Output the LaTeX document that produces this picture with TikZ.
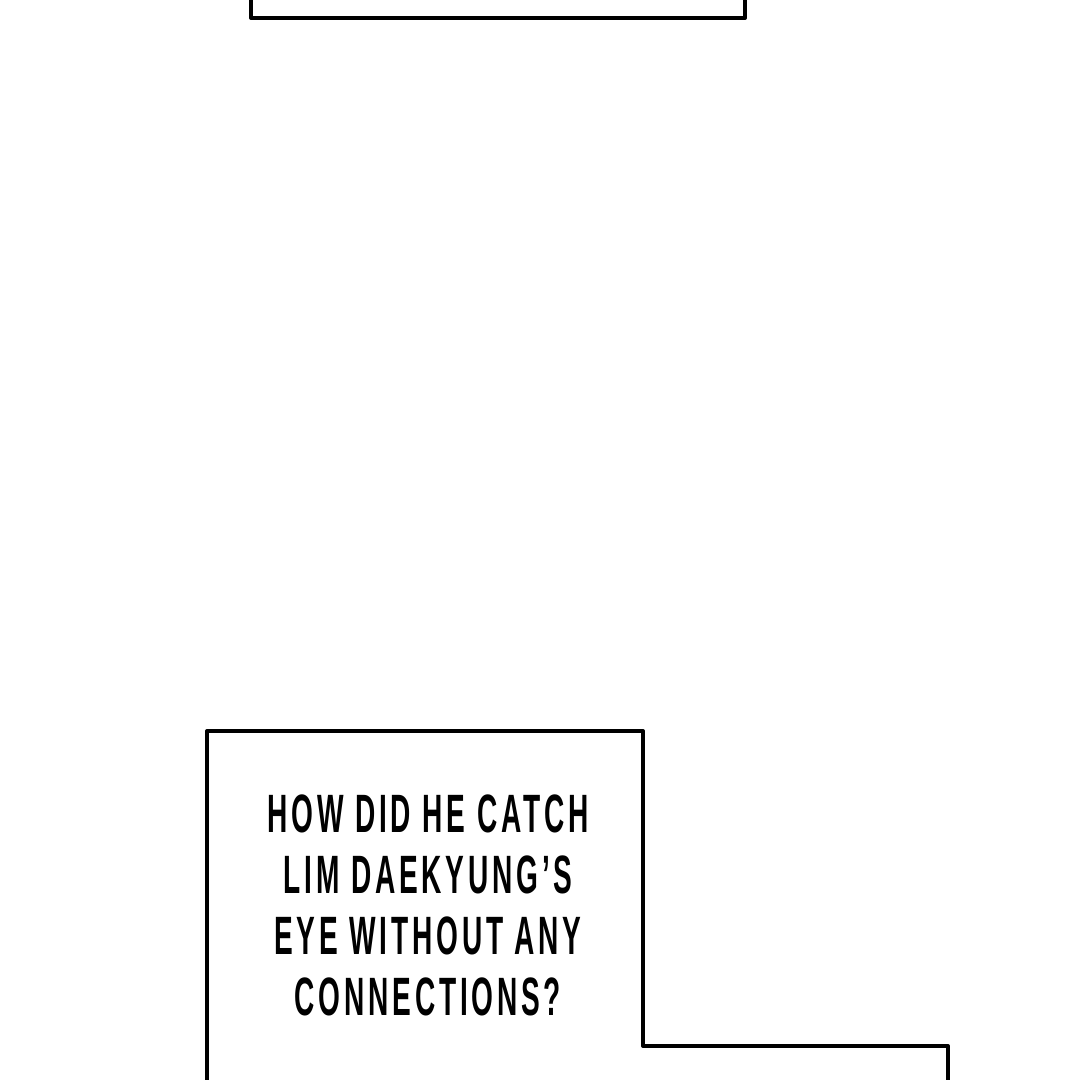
\documentclass[tikz,border=0pt]{standalone}
\usepackage{fontspec}
\usepackage{tikz}
\usetikzlibrary{positioning}
\newfontfamily\letterfont[FakeStretch=0.52, LetterSpace=7]{Liberation Sans}
\tikzstyle{panel} = [draw=black, line width=4pt, line join=round, line cap=round]
\tikzstyle{caption} = [text centered, align=center, font=\letterfont\bfseries\fontsize{54}{61}\selectfont]

\begin{document}
\begin{tikzpicture}[x=1pt, y=-1pt]
        \useasboundingbox (0,0) rectangle (1080,1080);
        \coordinate (topL) at (251,-5);
        \coordinate (topR) at (745,-5);
        \coordinate (boxA) at (207,1085);
        \coordinate (boxB) at (948,1085);
        \node (caption) [caption] at (428,905) {HOW DID HE CATCH\\LIM DAEKYUNG’S\\EYE WITHOUT ANY\\CONNECTIONS?};

        \draw [panel] (topL) |- (topR |- 0,18) -- (topR);
        \draw [panel] (boxA) |- (643,731) |- (948,1046) -- (boxB);
    \end{tikzpicture}
\end{document}
